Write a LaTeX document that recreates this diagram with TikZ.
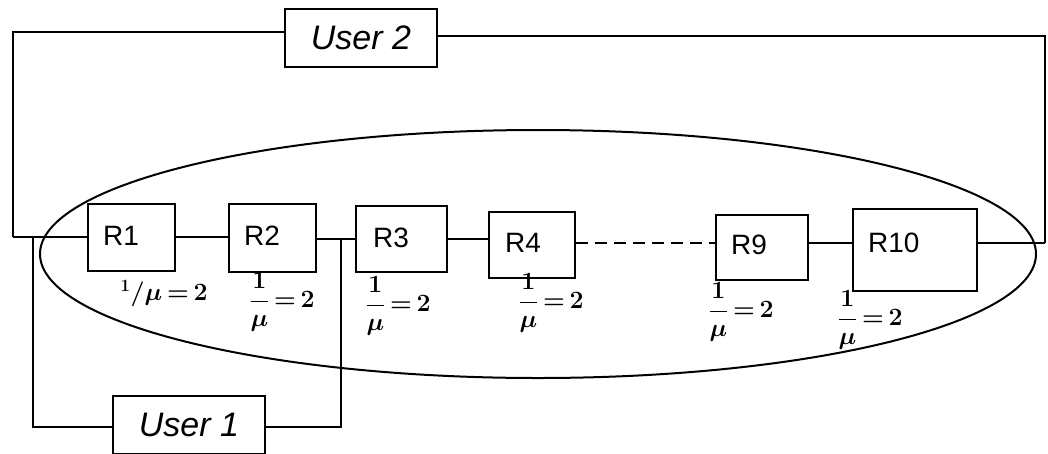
\documentclass[tikz,border=0pt]{standalone}
\usepackage{fontspec}
\setmainfont{Liberation Sans}
\begin{document}
\begin{tikzpicture}[x=1pt,y=-1pt,
  wire/.style={line width=2.2pt},
  rbox/.style={draw,line width=2.2pt,minimum width=#1,inner sep=0pt},
  ubox/.style={draw,line width=2pt,minimum width=152pt,minimum height=58pt,inner sep=0pt,
     font=\fontsize{34}{36}\selectfont\itshape},
  rlab/.style={anchor=base west,inner sep=0pt,font=\fontsize{28}{30}\selectfont},
  mlab/.style={inner sep=0pt,font=\fontsize{25}{27}\selectfont\boldmath}]
\useasboundingbox (0,0) rectangle (1048,453);
% ellipse
\draw[line width=2pt] (538,254) ellipse [x radius=498pt, y radius=124pt];
% user boxes
\node[ubox] (U2) at (361,38) {User 2};
\node[ubox] (U1) at (189,425) {User 1};
% router boxes
\node[rbox=87pt,minimum height=67pt] (R1) at (131.5,237.5) {};
\node[rbox=87pt,minimum height=68pt] (R2) at (272.5,238) {};
\node[rbox=91pt,minimum height=66pt] (R3) at (401.5,239) {};
\node[rbox=86pt,minimum height=66pt] (R4) at (532,245) {};
\node[rbox=92pt,minimum height=65pt] (R9) at (762,247.5) {};
\node[rbox=124pt,minimum height=82pt] (R10) at (915,250) {};
\node[rlab] (t1) at (103,245) {R1};
\node[rlab] (t2) at (244,245) {R2};
\node[rlab] (t3) at (373,247) {R3};
\node[rlab] (t4) at (505,252) {R4};
\node[rlab] (t9) at (731,254) {R9};
\node[rlab] (t10) at (868,252) {R10};
% junction coordinates
\coordinate (cL) at (13,237);
\coordinate (cTL) at (13,32);
\coordinate (cR) at (1045,243);
\coordinate (cTR) at (1045,36);
\coordinate (j1) at (33,237);
\coordinate (b1) at (33,427);
\coordinate (j2) at (341,239);
\coordinate (b2) at (341,427);
% main chain
\draw[wire] (cL) -- (R1.west |- cL);
\draw[wire] (R1.east |- 0,237) -- (R2.west |- 0,237);
\draw[wire] (R2.east |- 0,239) -- (R3.west |- 0,239);
\draw[wire] (R3.east |- 0,239) -- (R4.west |- 0,239);
\draw[wire,dash pattern=on 12pt off 7pt] (R4.east |- 0,243) -- (R9.west |- 0,243);
\draw[wire] (R9.east |- 0,243) -- (R10.west |- 0,243);
\draw[wire] (R10.east |- cR) -- (cR);
% user 2 loop
\draw[wire] (U2.west |- cTL) -- (cTL) -- (cL);
\draw[wire] (U2.east |- cTR) -- (cTR) -- (cR);
% user 1 loop
\draw[wire] (j1) -- (b1) -- (U1.west |- b1);
\draw[wire] (U1.east |- b2) -- (b2) -- (j2);
% service-rate labels
\node[mlab] (m1) at (164,294) {$^{1}/\mu\,{=}\,2$};
\node[mlab] (m2) at (282,302) {$\displaystyle\frac{1}{\mu}\,{=}\,2$};
\node[mlab] (m3) at (398,306) {$\displaystyle\frac{1}{\mu}\,{=}\,2$};
\node[mlab] (m4) at (551,303) {$\displaystyle\frac{1}{\mu}\,{=}\,2$};
\node[mlab] (m9) at (741,312) {$\displaystyle\frac{1}{\mu}\,{=}\,2$};
\node[mlab] (m10) at (870,320) {$\displaystyle\frac{1}{\mu}\,{=}\,2$};
\end{tikzpicture}
\end{document}
